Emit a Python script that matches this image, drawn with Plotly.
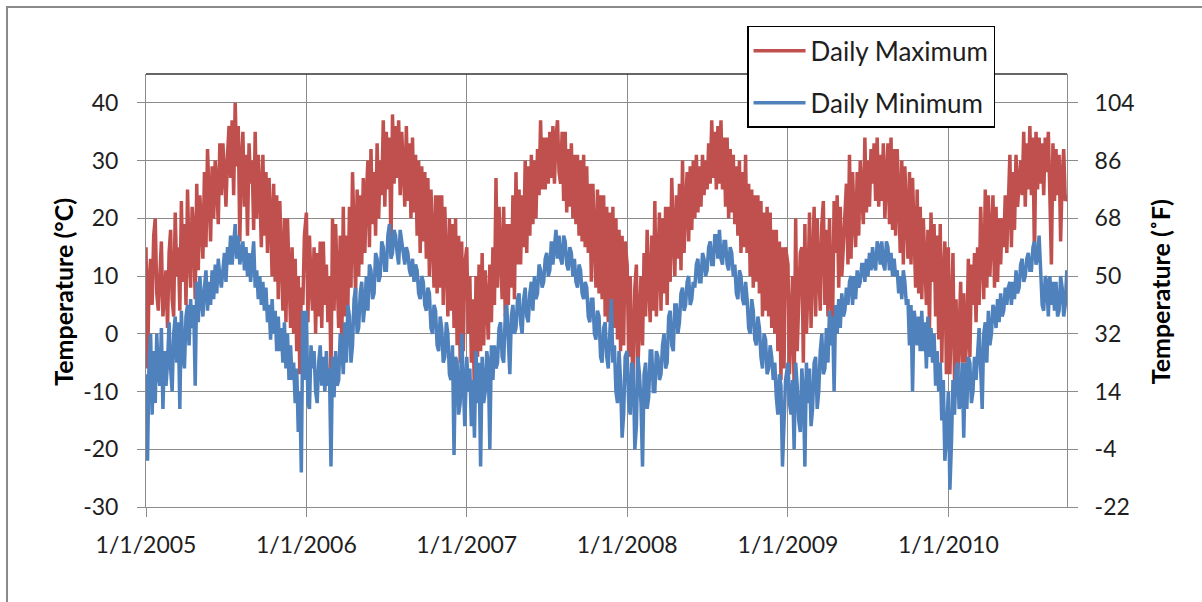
import pandas as pd
import plotly.graph_objects as go

# Twice-weekly readings (°C), one list per year, first reading on 1 January,
# readings 3.5 days apart; one line per month
tmax_2005 = [15, -6, 9, 13, 5, 17, 20, 7, 4, 12,
             16, 3, 8, 11, 1, 14, 18, 6,
             3, 21, 10, 15, 4, 23, 9, 19,
             5, 25, 14, 8, 22, 18, 6, 26,
             11, 24, 19, 13, 28, 15, 32, 25, 16, 29,
             20, 30, 26, 19, 33, 24, 33, 28,
             22, 31, 36, 27, 37, 24, 40, 29,
             36, 16, 30, 35, 22, 31, 17, 33, 26, 30,
             18, 35, 20, 31, 25, 15, 31, 17,
             28, 14, 27, 20, 10, 26, 9, 24,
             6, 23, 15, 4, 20, 2, 20, 9, 1, 15,
             0, 13, -3, 10, -7, 8, 5, 17]
tmin_2005 = [-7, -22, -4, 0, -14, -3, -12, 0, -7, -9,
             1, -13, -3, -9, -5, 2, -6, -10,
             0, 3, -5, 2, -13, 4, -3, -6,
             3, 5, -2, 6, 1, 5, -9, 9,
             2, 10, 6, 3, 8, 11, 4, 9, 5, 11,
             6, 12, 7, 13, 10, 8, 11, 14,
             9, 15, 12, 17, 12, 16, 19, 13,
             17, 12, 14, 16, 11, 15, 10, 14, 9, 13,
             16, 8, 11, 6, 10, 5, 9, 4,
             8, 2, 5, -1, 6, 0, 4, -3,
             3, -3, 1, -5, 2, -6, 0, -8, -2, -8,
             -5, -12, -6, -17, -10, -24, 4, -8]

tmax_2006 = [21, 2, 17, 9, 4, 15, 0, 14, 3, 16,
             1, 16, 5, 12, 2, 10, -7, 20,
             4, 19, 11, 1, 17, -2, 22, 3,
             17, 5, 22, 8, 28, 14, 7, 25,
             10, 24, 12, 27, 14, 24, 30, 15, 32, 19,
             28, 17, 33, 20, 30, 24, 37, 22,
             35, 25, 34, 15, 38, 26, 36, 27,
             37, 24, 35, 29, 22, 36, 23, 33, 20, 34,
             21, 31, 17, 30, 14, 29, 16, 28,
             13, 27, 10, 25, 18, 8, 24, 7,
             24, 8, 24, 5, 22, 13, 3, 20, 4, 19,
             1, 20, -2, 17, -5, 16, -3, 12]
tmin_2006 = [4, -12, -13, -2, -6, -3, -10, -12, -5, -2,
             -9, -4, -10, -3, -9, -6, -23, -4,
             -11, -3, -9, -8, 0, -2, -7, 2,
             -5, 5, 3, -5, -2, 6, 8, 0,
             1, 7, 9, 2, 5, 10, 4, 12, 11, 6,
             7, 14, 13, 9, 10, 16, 15, 11,
             11, 17, 19, 13, 14, 18, 17, 14,
             12, 18, 16, 13, 12, 15, 14, 11, 10, 13,
             9, 12, 11, 7, 6, 10, 9, 5,
             4, 8, 7, 1, 0, 5, 4, -2,
             -3, 3, 1, -5, -4, 2, 0, -7, -8, -2,
             -21, -4, -5, -14, -12, 0, -10, -16]

tmax_2007 = [15, 0, 10, -5, 6, -12, 10, -4, 12, -3,
             14, -2, 11, 5, -1, 12, 2, 15,
             5, 27, 8, 22, 14, 6, 22, 3,
             19, 5, 19, 8, 24, 6, 28, 12,
             25, 12, 24, 15, 30, 14, 29, 17, 31, 19,
             30, 20, 32, 24, 37, 25, 34, 25,
             34, 26, 35, 27, 36, 26, 34, 37,
             28, 26, 35, 23, 35, 21, 32, 22, 33, 20,
             31, 19, 31, 17, 30, 16, 31, 15,
             29, 14, 26, 9, 26, 18, 8, 25,
             7, 24, 6, 24, 3, 22, 2, 21, 0, 22,
             1, 20, -1, 18, -3, 17, -2, 16]
tmin_2007 = [-4, -10, -6, -16, -8, -18, -3, -12, -5, -23,
             -4, -12, -10, -3, -5, -20, -2, -8,
             -2, -6, -5, 1, 2, -4, -5, 3,
             5, -3, -7, 3, 5, 0, 1, 6,
             7, 2, 0, 6, 8, 3, 2, 7, 9, 4,
             10, 6, 7, 12, 11, 8, 9, 13,
             14, 10, 11, 16, 12, 15, 18, 13,
             17, 13, 12, 17, 16, 12, 11, 15, 14, 10,
             13, 9, 8, 12, 11, 7, 6, 9,
             8, 3, 2, 6, 6, 0, -1, 4,
             3, -4, -5, 1, 2, -4, -6, 0, 6, -5,
             -2, -10, -12, -3, -8, -18, -14, -4]

tmax_2008 = [12, -4, 10, -2, -9, 8, 12, -6, 3, 10,
             -2, 14, 3, 18, 9, 2, 17, 4,
             23, 3, 12, 21, 4, 20, 7, 22,
             5, 22, 9, 27, 17, 10, 24, 13,
             26, 11, 30, 14, 22, 28, 16, 29, 18, 30,
             20, 31, 21, 29, 22, 31, 24, 30,
             25, 33, 26, 37, 27, 35, 25, 36,
             26, 37, 25, 34, 22, 34, 20, 32, 21, 31,
             19, 29, 17, 30, 14, 28, 15, 31,
             14, 26, 10, 25, 8, 24, 9, 24,
             7, 23, 3, 21, 4, 22, 3, 21, 1, 18,
             0, 18, -3, 16, -8, 15, -6, 15]
tmin_2008 = [-3, -12, -14, -5, -6, -20, -16, -4, -7, -12,
             -23, -7, -5, -13, -11, -3, -3, -10,
             -10, -3, -4, -8, -7, -2, 0, -6,
             -5, 3, 4, -2, -3, 5, 5, 0,
             2, 7, 8, 4, 5, 9, 10, 5, 6, 9,
             8, 12, 13, 9, 9, 14, 13, 10,
             11, 15, 16, 12, 12, 17, 17, 13,
             18, 13, 12, 16, 16, 12, 11, 15, 14, 10,
             12, 7, 6, 11, 10, 6, 5, 9,
             6, 1, 0, 6, 4, -1, -2, 3,
             1, -4, -6, 0, -1, -7, -6, -2, -4, -8,
             -5, -11, -14, -7, -9, -23, -17, -8]

tmax_2009 = [12, -7, 2, 10, -10, 20, -3, 5, 14, 15,
             -5, 19, 0, 8, 21, 1, 14, 22,
             3, 20, 11, 4, 19, 23, 5, 18,
             3, 20, 6, 2, 23, 14, 24, 8,
             22, 10, 15, 22, 26, 12, 31, 13, 28, 20,
             15, 28, 17, 30, 25, 19, 34, 21,
             30, 22, 32, 26, 33, 23, 34, 22,
             31, 23, 33, 20, 27, 33, 19, 34, 18, 32,
             17, 32, 24, 14, 30, 12, 29, 21,
             13, 28, 12, 27, 18, 8, 25, 7,
             22, 6, 20, 12, 5, 18, 1, 21, 9, 19,
             3, 17, -1, 19, -5, 10, 16, -7]
tmin_2009 = [-5, -12, -14, -8, -20, -5, -9, -15, -17, -6,
             -10, -23, -5, -12, -6, -16, -13, -5,
             -4, -13, -10, -3, 0, -7, -6, 1,
             -5, 4, -2, 3, -10, 5, 0, 6,
             1, 7, 3, 4, 8, 5, 9, 10, 5, 10,
             6, 11, 8, 9, 12, 12, 9, 13,
             10, 14, 11, 15, 12, 11, 16, 15,
             12, 16, 12, 11, 16, 15, 11, 14, 10, 13,
             10, 11, 7, 10, 6, 11, 9, 5,
             6, -2, 5, -10, 4, 2, -2, 3,
             -3, 4, -3, 2, -6, 3, -4, 1, -5, 0,
             -9, -3, -10, -5, -15, -8, -22, -18]

tmax_2010 = [15, -7, 3, 14, -8, 6, -9, 0, 9, -5,
             7, -5, -1, 13, -4, 12, 5, 14,
             2, 15, 5, 22, 12, 6, 25, 8,
             24, 10, 17, 24, 8, 22, 9, 20,
             12, 20, 15, 24, 14, 22, 31, 15, 28, 18,
             31, 22, 26, 30, 24, 35, 22, 33,
             25, 36, 24, 34, 13, 35, 25, 34,
             26, 33, 24, 34, 28, 35, 24, 12, 33, 23,
             32, 24, 31, 16, 27, 32, 23, 24]
tmin_2010 = [-10, -27, -19, -8, -14, -6, -5, -13, -12, -5,
             -18, -5, -13, -4, -5, -12, -10, -4,
             -8, -2, 1, -6, -13, 0, 2, -5,
             4, -2, 0, 5, 4, 1, 6, 2,
             7, 3, 4, 8, 5, 8, 9, 5, 9, 6,
             11, 7, 8, 12, 13, 9, 10, 13,
             14, 11, 11, 15, 16, 12, 13, 17,
             12, 5, 4, 10, 9, 3, 10, 5, 9, 4,
             9, 3, 4, 10, 8, 3, 5, 11]

years = [2005, 2006, 2007, 2008, 2009, 2010]
tmax_by_year = [tmax_2005, tmax_2006, tmax_2007, tmax_2008, tmax_2009, tmax_2010]
tmin_by_year = [tmin_2005, tmin_2006, tmin_2007, tmin_2008, tmin_2009, tmin_2010]

year_ticks = [f"{y}-01-01" for y in years]
year_labels = [f"1/1/{y}" for y in years]
c_ticks = [-30, -20, -10, 0, 10, 20, 30, 40]
f_ticks = [-22, -4, 14, 32, 50, 68, 86, 104]


def reading_series(values_by_year):
    dates, vals = [], []
    for y, vals_y in zip(years, values_by_year):
        dates.extend(pd.date_range(f"{y}-01-01", periods=len(vals_y), freq="84h"))
        vals.extend(vals_y)
    return dates, vals


max_dates, max_vals = reading_series(tmax_by_year)
min_dates, min_vals = reading_series(tmin_by_year)

FONT = "Lato, 'Open Sans', sans-serif"
GRID = "#8c8c8c"
TEXT = "#1e1e1e"
TICK_FONT = dict(size=23, family=FONT, color=TEXT)

fig = go.Figure()
fig.add_trace(go.Scatter(x=max_dates, y=max_vals, mode="lines", name="Daily Maximum",
                         legendgroup="max", hoverinfo="x+y",
                         line=dict(color="#C0504D", width=3.5)))
fig.add_trace(go.Scatter(x=min_dates, y=min_vals, mode="lines", name="Daily Minimum",
                         legendgroup="min", hoverinfo="x+y",
                         line=dict(color="#4F81BD", width=3.5)))
# same maxima in °F, drawn invisibly so the Fahrenheit axis is laid out
fig.add_trace(go.Scatter(x=max_dates, y=[v * 9 / 5 + 32 for v in max_vals],
                         mode="lines", yaxis="y2", showlegend=False, hoverinfo="skip",
                         line=dict(color="rgba(0,0,0,0)", width=0)))

fig.update_layout(
    width=1202, height=602,
    margin=dict(l=146, r=135, t=74, b=95),
    paper_bgcolor="white", plot_bgcolor="white",
    font=dict(family=FONT, size=23, color=TEXT),
    showlegend=True,
    legend=dict(x=0.6526, y=1.111, xanchor="left", yanchor="top",
                bgcolor="white", bordercolor="#000000", borderwidth=1.5,
                font=dict(size=26, family=FONT, color=TEXT),
                tracegroupgap=15, itemwidth=52),
    xaxis=dict(type="date", range=["2005-01-01", "2010-09-28"],
               tickvals=year_ticks, ticktext=year_labels,
               showgrid=True, gridcolor=GRID, gridwidth=1,
               showline=True, linecolor=GRID, linewidth=1,
               ticks="outside", ticklen=9, tickcolor=GRID,
               tickfont=TICK_FONT, ticklabelstandoff=8,
               zeroline=False),
    yaxis=dict(range=[-30, 45], tickvals=c_ticks, ticktext=[str(v) for v in c_ticks],
               showgrid=True, gridcolor=GRID, gridwidth=1,
               showline=True, linecolor=GRID, linewidth=1,
               ticks="outside", ticklen=8, tickcolor=GRID,
               tickfont=TICK_FONT, ticklabelstandoff=14,
               zeroline=False),
    yaxis2=dict(range=[-22, 113], tickvals=f_ticks, ticktext=[str(v) for v in f_ticks],
                overlaying="y", side="right",
                showgrid=False, showline=True, linecolor=GRID, linewidth=1,
                ticks="outside", ticklen=10, tickcolor=GRID,
                tickfont=TICK_FONT, ticklabelstandoff=12,
                zeroline=False),
    shapes=[
        # outer chart frame
        dict(type="rect", xref="paper", yref="paper",
             x0=-0.1509, x1=1.2, y0=-0.25, y1=1.1547,
             line=dict(color="#8a8a8a", width=2), fillcolor="rgba(0,0,0,0)", layer="below"),
        # dark top edge of the plot area
        dict(type="line", xref="paper", yref="paper", x0=0, x1=1, y0=1, y1=1,
             line=dict(color="#333333", width=1.5)),
    ],
    annotations=[
        dict(text="<b>Temperature (°C)</b>", textangle=-90, xref="paper", yref="paper",
             x=-0.0901, y=0.497, xanchor="center", yanchor="middle", showarrow=False,
             font=dict(size=25, family=FONT, color="#000000")),
        dict(text="<b>Temperature (˚F)</b>", textangle=-90, xref="paper", yref="paper",
             x=1.1005, y=0.497, xanchor="center", yanchor="middle", showarrow=False,
             font=dict(size=25, family=FONT, color="#000000")),
    ],
)

fig.write_html("out.html")
